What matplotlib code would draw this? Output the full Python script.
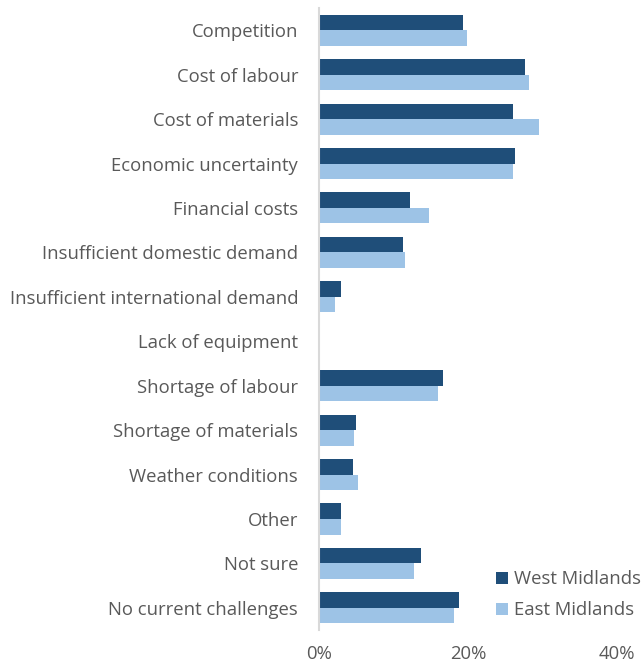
import numpy as np
import matplotlib.pyplot as plt
from matplotlib.ticker import PercentFormatter

# Challenges reported, share of businesses by region
categories = ["Competition", "Cost of labour", "Cost of materials", "Economic uncertainty",
              "Financial costs", "Insufficient domestic demand", "Insufficient international demand",
              "Lack of equipment", "Shortage of labour", "Shortage of materials",
              "Weather conditions", "Other", "Not sure", "No current challenges"]
west_midlands = [19.3, 27.6, 26.1, 26.3, 12.2, 11.3, 3.0, 0.0, 16.7, 5.0, 4.6, 2.9, 13.7, 18.8]
east_midlands = [19.9, 28.2, 29.6, 26.0, 14.8, 11.5, 2.1, 0.0, 16.0, 4.7, 5.3, 2.9, 12.7, 18.1]
x_ticks = [0, 20, 40]

plt.rcParams['font.family'] = ['Open Sans', 'DejaVu Sans']
text_col = "#595959"
fs = 13.3

fig = plt.figure(figsize=(6.44, 6.66), dpi=100)
ax = fig.add_axes([0.4953, 0.054, 0.4627, 0.934])

y = np.arange(len(categories))
h = 0.35
ax.barh(y - h / 2, west_midlands, height=h, color="#1f4e79", label="West Midlands")
ax.barh(y + h / 2, east_midlands, height=h, color="#9dc3e6", label="East Midlands")

ax.set_xlim(0, 40)
ax.set_ylim(len(categories) - 0.5, -0.5)
ax.set_xticks(x_ticks)
ax.xaxis.set_major_formatter(PercentFormatter(decimals=0))
ax.set_yticks(y)
ax.set_yticklabels(categories)
ax.tick_params(axis='both', length=0, labelsize=fs, colors=text_col)
ax.tick_params(axis='y', pad=15)
ax.tick_params(axis='x', pad=11)

for s in ["top", "right", "bottom"]:
    ax.spines[s].set_visible(False)
ax.spines["left"].set_color("#d9d9d9")
ax.spines["left"].set_linewidth(1.5)

leg = ax.legend(loc="lower right", bbox_to_anchor=(1.0, 0.066), bbox_transform=fig.transFigure,
                frameon=False, fontsize=fs, handlelength=0.65, handleheight=0.65,
                handletextpad=0.35, labelspacing=0.7, borderaxespad=0, borderpad=0.15)
for t in leg.get_texts():
    t.set_color(text_col)

fig.savefig("out.png", dpi=100)
